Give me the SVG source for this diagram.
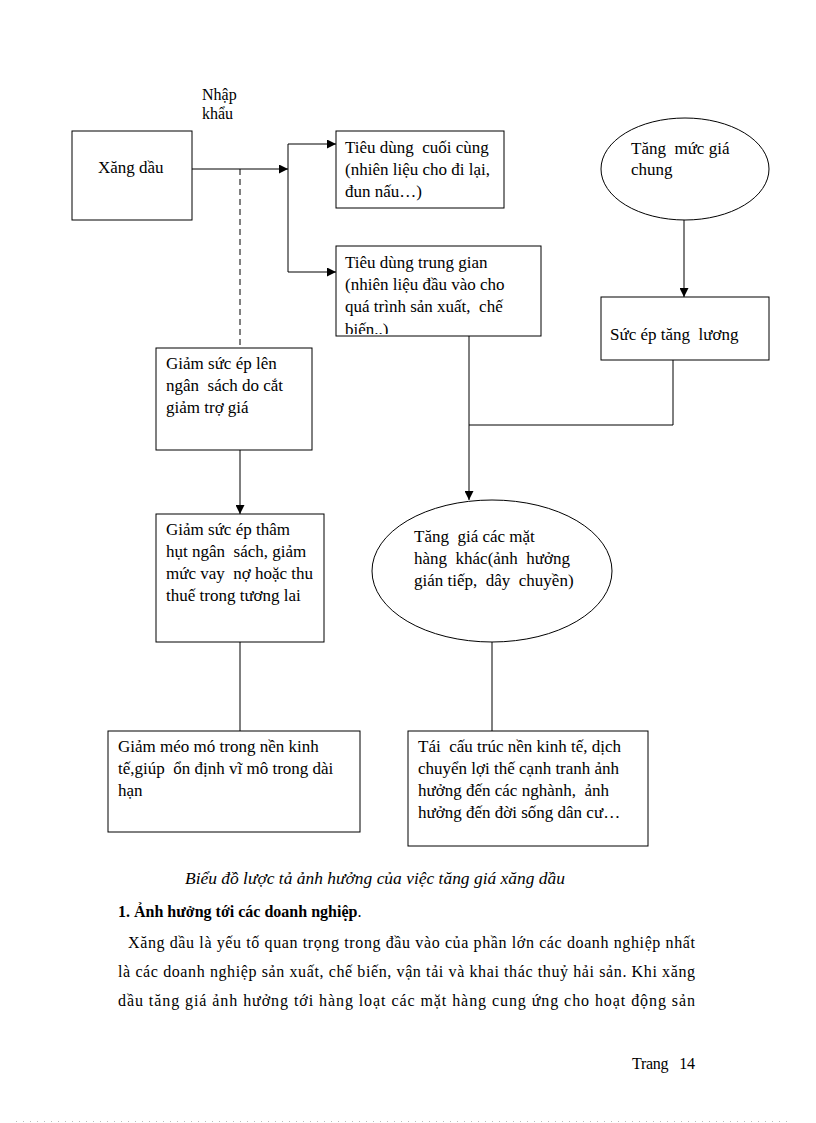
<svg xmlns="http://www.w3.org/2000/svg" width="816" height="1123" viewBox="0 0 816 1123">
<style>
text{font-family:"Liberation Serif","Times New Roman",serif;font-size:17px;fill:#000;white-space:pre}
.sm{font-size:16px}
.box{fill:#fff;stroke:#000;stroke-width:1}
.ln{fill:none;stroke:#000;stroke-width:1}
.arr{fill:none;stroke:#000;stroke-width:1;marker-end:url(#ah)}
</style>
<defs>
<marker id="ah" viewBox="0 0 10 10" refX="10" refY="5" markerWidth="9" markerHeight="9" markerUnits="userSpaceOnUse" orient="auto">
<path d="M0,0 L10,5 L0,10 z" fill="#000"/>
</marker>
<clipPath id="c2"><rect x="336" y="246" width="205" height="88"/></clipPath>
</defs>
<rect width="816" height="1123" fill="#fff"/>

<g id="connectors">
<line class="arr" x1="192" y1="169" x2="288" y2="169"/>
<polyline class="ln" points="288,144 288,272"/>
<line class="arr" x1="288" y1="144" x2="336" y2="144"/>
<line class="arr" x1="288" y1="272" x2="336" y2="272"/>
<line class="ln" x1="240" y1="169" x2="240" y2="348" stroke-dasharray="6,4"/>
<line class="arr" x1="240" y1="450" x2="240" y2="514"/>
<line class="arr" x1="469" y1="336" x2="469" y2="500"/>
<polyline class="ln" points="673,360 673,425 469,425"/>
<line class="arr" x1="684" y1="220" x2="684" y2="297"/>
<line class="ln" x1="240" y1="642" x2="240" y2="731"/>
<line class="ln" x1="492" y1="642" x2="492" y2="731"/>
</g>

<g id="import-label">
<text x="202" y="100" class="sm">Nhập</text>
<text x="202" y="119" class="sm">khẩu</text>
</g>

<g id="xang-dau">
<rect class="box" x="72" y="131" width="120" height="89"/>
<text x="98" y="173">Xăng dầu</text>
</g>

<g id="tieu-dung-cuoi-cung">
<rect class="box" x="336" y="131" width="168" height="77"/>
<text x="345" y="153">Tiêu dùng  cuối cùng</text>
<text x="345" y="175">(nhiên liệu cho đi lại,</text>
<text x="345" y="197">đun nấu…)</text>
</g>

<g id="tieu-dung-trung-gian">
<rect class="box" x="336" y="246" width="205" height="90"/>
<g clip-path="url(#c2)">
<text x="345" y="268">Tiêu dùng trung gian</text>
<text x="345" y="290">(nhiên liệu đầu vào cho</text>
<text x="345" y="312">quá trình sản xuất,  chế</text>
<text x="345" y="335">biến..)</text>
</g>
</g>

<g id="tang-muc-gia-chung">
<ellipse class="box" cx="685" cy="169" rx="84" ry="51"/>
<text x="631" y="154">Tăng  mức giá</text>
<text x="631" y="175">chung</text>
</g>

<g id="suc-ep-tang-luong">
<rect class="box" x="601" y="297" width="168" height="63"/>
<text x="610" y="340">Sức ép tăng  lương</text>
</g>

<g id="giam-suc-ep-ngan-sach">
<rect class="box" x="156" y="348" width="156" height="102"/>
<text x="166" y="369">Giảm sức ép lên</text>
<text x="166" y="391">ngân  sách do cắt</text>
<text x="166" y="413">giảm trợ giá</text>
</g>

<g id="giam-tham-hut">
<rect class="box" x="156" y="514" width="168" height="128"/>
<text x="166" y="535">Giảm sức ép thâm</text>
<text x="166" y="557">hụt ngân  sách, giảm</text>
<text x="166" y="579">mức vay  nợ hoặc thu</text>
<text x="166" y="601">thuế trong tương lai</text>
</g>

<g id="tang-gia-mat-hang">
<ellipse class="box" cx="492" cy="571" rx="120" ry="71"/>
<text x="414" y="542">Tăng  giá các mặt</text>
<text x="414" y="564">hàng  khác(ảnh  hưởng</text>
<text x="414" y="586">gián tiếp,  dây  chuyền)</text>
</g>

<g id="giam-meo-mo">
<rect class="box" x="108" y="731" width="252" height="101"/>
<text x="118" y="752">Giảm méo mó trong nền kinh</text>
<text x="118" y="774">tế,giúp  ổn định vĩ mô trong dài</text>
<text x="118" y="796">hạn</text>
</g>

<g id="tai-cau-truc">
<rect class="box" x="408" y="731" width="240" height="115"/>
<text x="418" y="752">Tái  cấu trúc nền kinh tế, dịch</text>
<text x="418" y="774">chuyển lợi thế cạnh tranh ảnh</text>
<text x="418" y="796">hưởng đến các nghành,  ảnh</text>
<text x="418" y="818">hưởng đến đời sống dân cư…</text>
</g>

<g id="body-text">
<text x="185" y="884" font-style="italic" textLength="380" lengthAdjust="spacingAndGlyphs">Biểu đồ lược tả ảnh hưởng của việc tăng giá xăng dầu</text>
<text x="118" y="917" class="sm"><tspan font-weight="bold">1. Ảnh hưởng tới các doanh nghiệp</tspan>.</text>
<text x="128" y="948" class="sm" textLength="567" lengthAdjust="spacing">Xăng dầu là yếu tố quan trọng trong đầu vào của phần lớn các doanh nghiệp nhất</text>
<text x="118" y="977" class="sm" textLength="577" lengthAdjust="spacing">là các doanh nghiệp sản xuất, chế biến, vận tải và khai thác thuỷ hải sản. Khi xăng</text>
<text x="118" y="1006" class="sm" textLength="577" lengthAdjust="spacing">dầu tăng giá ảnh hưởng tới hàng loạt các mặt hàng cung ứng cho hoạt động sản</text>
<text x="632" y="1069" class="sm" textLength="63" lengthAdjust="spacing">Trang   14</text>
</g>
<line x1="16" y1="1121.5" x2="792" y2="1121.5" stroke="#bbb" stroke-width="1" stroke-dasharray="1,6"/>
</svg>
